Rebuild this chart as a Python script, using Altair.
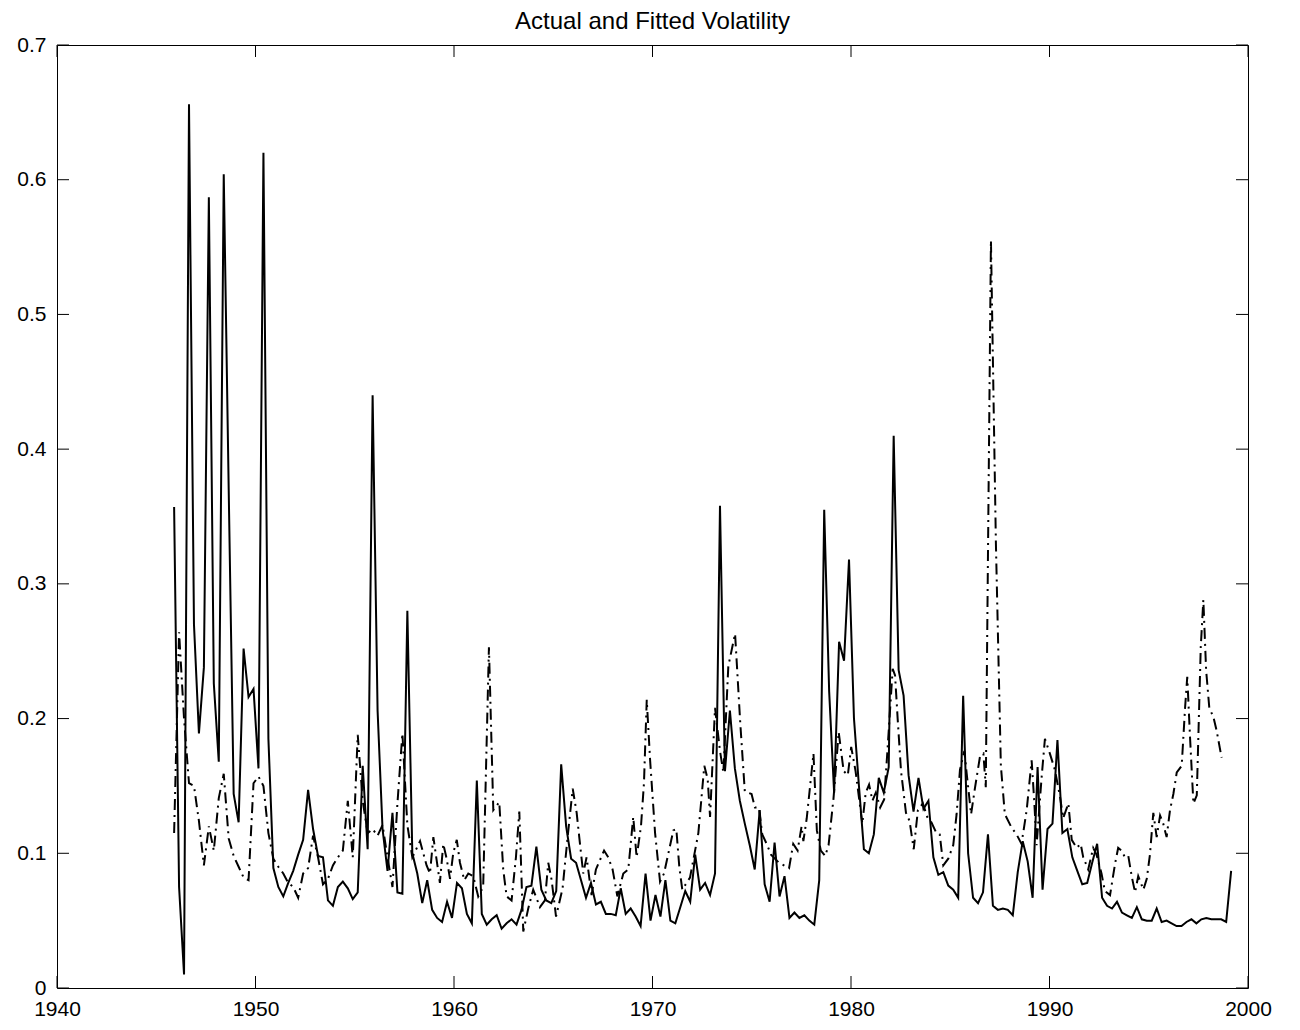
import altair as alt
import pandas as pd

# ---------------- data ----------------
# Actual volatility: quarterly observations starting 1945.9
actual_start = 1945.9
quarter = 0.25
actual_vol = [
    0.357, 0.075, 0.010, 0.656, 0.270, 0.189, 0.238, 0.587, 0.226, 0.168,
    0.604, 0.370, 0.144, 0.123, 0.252, 0.216, 0.222, 0.163, 0.620, 0.185,
    0.089, 0.075, 0.068, 0.078, 0.087, 0.099, 0.110, 0.147, 0.118, 0.098,
    0.097, 0.065, 0.061, 0.075, 0.079, 0.074, 0.066, 0.071, 0.165, 0.103,
    0.440, 0.206, 0.118, 0.087, 0.130, 0.071, 0.070, 0.280, 0.100, 0.085,
    0.063, 0.080, 0.058, 0.052, 0.049, 0.064, 0.052, 0.078, 0.074, 0.055,
    0.048, 0.154, 0.055, 0.047, 0.051, 0.054, 0.044, 0.048, 0.051, 0.047,
    0.058, 0.075, 0.076, 0.105, 0.073, 0.065, 0.063, 0.072, 0.166, 0.120,
    0.096, 0.093, 0.080, 0.067, 0.078, 0.062, 0.064, 0.055, 0.055, 0.054,
    0.074, 0.055, 0.059, 0.053, 0.046, 0.085, 0.050, 0.069, 0.053, 0.080,
    0.050, 0.048, 0.060, 0.072, 0.064, 0.099, 0.073, 0.078, 0.069, 0.085,
    0.358, 0.161, 0.206, 0.163, 0.139, 0.122, 0.106, 0.088, 0.132, 0.077,
    0.064, 0.108, 0.068, 0.083, 0.052, 0.056, 0.052, 0.054, 0.050, 0.047,
    0.080, 0.355, 0.220, 0.145, 0.257, 0.243, 0.318, 0.200, 0.150, 0.103,
    0.100, 0.114, 0.156, 0.145, 0.164, 0.410, 0.236, 0.217, 0.158, 0.131,
    0.156, 0.133, 0.139, 0.097, 0.084, 0.086, 0.076, 0.073, 0.067, 0.217,
    0.100, 0.067, 0.063, 0.071, 0.114, 0.061, 0.058, 0.059, 0.058, 0.054,
    0.086, 0.109, 0.094, 0.067, 0.164, 0.073, 0.118, 0.122, 0.184, 0.115,
    0.118, 0.097, 0.087, 0.077, 0.078, 0.093, 0.107, 0.067, 0.061, 0.059,
    0.064, 0.056, 0.054, 0.052, 0.060, 0.051, 0.050, 0.050, 0.059, 0.049,
    0.050, 0.048, 0.046, 0.046, 0.049, 0.051, 0.048, 0.051, 0.052, 0.051,
    0.051, 0.051, 0.049, 0.087,
]

# Fitted volatility (dash-dot line): year / value pairs
fitted_years = [
    1945.9, 1946.15, 1946.4, 1946.65, 1946.9, 1947.15, 1947.4, 1947.65, 1947.9, 1948.15,
    1948.4, 1948.65, 1948.9, 1949.15, 1949.4, 1949.65, 1949.9, 1950.15, 1950.4, 1950.65,
    1950.9, 1951.15, 1951.4, 1951.65, 1951.9, 1952.15, 1952.4, 1952.65, 1952.9, 1953.15,
    1953.4, 1953.65, 1953.9, 1954.15, 1954.4, 1954.65, 1954.9, 1955.15, 1955.4, 1955.65,
    1955.9, 1956.15, 1956.4, 1956.65, 1956.9, 1957.15, 1957.4, 1957.65, 1957.9, 1958.29,
    1958.62, 1958.79, 1958.96, 1959.29, 1959.46, 1959.63, 1959.8, 1959.96, 1960.14, 1960.3,
    1960.52, 1960.72, 1960.97, 1961.22, 1961.47, 1961.76, 1961.98, 1962.28, 1962.48, 1962.65,
    1962.9, 1963.12, 1963.29, 1963.49, 1963.74, 1963.99, 1964.33, 1964.58, 1964.75, 1964.92,
    1965.14, 1965.47, 1965.71, 1965.98, 1966.18, 1966.31, 1966.51, 1966.68, 1966.93, 1967.15,
    1967.56, 1967.77, 1967.99, 1968.23, 1968.53, 1968.78, 1969.03, 1969.2, 1969.42, 1969.57,
    1969.71, 1969.88, 1970.13, 1970.38, 1970.58, 1970.8, 1971.05, 1971.2, 1971.35, 1971.5,
    1971.89, 1972.31, 1972.61, 1972.78, 1972.9, 1973.15, 1973.4, 1973.57, 1973.82, 1974.16,
    1974.42, 1974.65, 1974.99, 1975.16, 1975.36, 1975.53, 1975.75, 1975.97, 1976.37, 1976.88,
    1977.09, 1977.31, 1977.51, 1977.6, 1977.77, 1978.11, 1978.28, 1978.48, 1978.7, 1978.87,
    1979.12, 1979.38, 1979.63, 1979.84, 1980.01, 1980.23, 1980.57, 1980.74, 1980.91, 1981.08,
    1981.25, 1981.47, 1981.67, 1981.84, 1982.1, 1982.22, 1982.35, 1982.52, 1982.77, 1982.95,
    1983.16, 1983.37, 1983.62, 1983.84, 1984.05, 1984.3, 1984.47, 1984.65, 1984.9, 1985.15,
    1985.32, 1985.49, 1985.71, 1985.83, 1986.05, 1986.25, 1986.5, 1986.67, 1986.79, 1987.05,
    1987.3, 1987.55, 1987.75, 1988.09, 1988.34, 1988.59, 1988.85, 1989.1, 1989.23, 1989.35,
    1989.6, 1989.77, 1990.02, 1990.27, 1990.53, 1990.69, 1990.95, 1991.12, 1991.37, 1991.57,
    1991.7, 1991.95, 1992.2, 1992.37, 1992.62, 1992.79, 1993.05, 1993.3, 1993.46, 1993.63,
    1993.8, 1993.97, 1994.14, 1994.31, 1994.47, 1994.73, 1994.9, 1995.06, 1995.23, 1995.4,
    1995.57, 1995.73, 1995.9, 1996.07, 1996.24, 1996.41, 1996.66, 1996.83, 1996.94, 1997.08,
    1997.25, 1997.42, 1997.62, 1997.75, 1997.89, 1998.05, 1998.26, 1998.42, 1998.67,
]
fitted_vol = [
    0.115, 0.264, 0.200, 0.152, 0.150, 0.124, 0.091, 0.120, 0.102, 0.141,
    0.159, 0.111, 0.098, 0.090, 0.082, 0.080, 0.152, 0.157, 0.150, 0.115,
    0.096, 0.090, 0.085, 0.078, 0.075, 0.067, 0.085, 0.089, 0.113, 0.097,
    0.077, 0.081, 0.091, 0.097, 0.102, 0.139, 0.097, 0.188, 0.139, 0.115,
    0.118, 0.113, 0.121, 0.097, 0.075, 0.137, 0.189, 0.121, 0.097, 0.109,
    0.091, 0.085, 0.112, 0.078, 0.107, 0.096, 0.081, 0.100, 0.110, 0.093,
    0.080, 0.085, 0.083, 0.068, 0.075, 0.253, 0.132, 0.138, 0.088, 0.068,
    0.065, 0.097, 0.131, 0.042, 0.059, 0.073, 0.060, 0.065, 0.093, 0.080,
    0.053, 0.074, 0.110, 0.148, 0.130, 0.112, 0.085, 0.097, 0.069, 0.088,
    0.102, 0.097, 0.088, 0.068, 0.085, 0.088, 0.127, 0.097, 0.120, 0.152,
    0.214, 0.169, 0.115, 0.079, 0.085, 0.100, 0.117, 0.118, 0.090, 0.073,
    0.082, 0.115, 0.165, 0.155, 0.127, 0.208, 0.176, 0.160, 0.239, 0.263,
    0.197, 0.146, 0.144, 0.134, 0.134, 0.114, 0.107, 0.099, 0.093, 0.089,
    0.107, 0.102, 0.120, 0.109, 0.126, 0.174, 0.117, 0.102, 0.098, 0.106,
    0.141, 0.190, 0.161, 0.158, 0.179, 0.161, 0.122, 0.145, 0.151, 0.139,
    0.145, 0.134, 0.140, 0.177, 0.237, 0.232, 0.200, 0.161, 0.130, 0.124,
    0.103, 0.132, 0.137, 0.127, 0.123, 0.115, 0.114, 0.091, 0.096, 0.106,
    0.129, 0.162, 0.176, 0.159, 0.129, 0.149, 0.172, 0.174, 0.149, 0.555,
    0.330, 0.165, 0.129, 0.119, 0.114, 0.107, 0.132, 0.169, 0.139, 0.106,
    0.156, 0.185, 0.174, 0.162, 0.142, 0.126, 0.137, 0.110, 0.104, 0.107,
    0.097, 0.088, 0.104, 0.099, 0.085, 0.072, 0.069, 0.092, 0.104, 0.102,
    0.097, 0.098, 0.083, 0.071, 0.083, 0.073, 0.081, 0.099, 0.130, 0.112,
    0.128, 0.122, 0.112, 0.132, 0.144, 0.160, 0.165, 0.208, 0.231, 0.186,
    0.137, 0.143, 0.253, 0.288, 0.236, 0.208, 0.201, 0.191, 0.171,
]

x_ticks = [1940, 1950, 1960, 1970, 1980, 1990, 2000]
y_ticks = [0.0, 0.1, 0.2, 0.3, 0.4, 0.5, 0.6, 0.7]
chart_title = "Actual and Fitted Volatility"

# ---------------- chart ----------------
W, H = 1191, 943
TICK = 12
FONT = "Liberation Sans"
LABEL_SIZE = 21

actual_years = [round(actual_start + quarter * i, 3) for i in range(len(actual_vol))]
df_actual = pd.DataFrame({"year": actual_years, "vol": actual_vol})
df_fitted = pd.DataFrame({"year": fitted_years, "vol": fitted_vol})
df_xt = pd.DataFrame({"year": x_ticks})
df_yt = pd.DataFrame({"vol": y_ticks})

xscale = alt.Scale(domain=[1940, 2000], nice=False, zero=False)
yscale = alt.Scale(domain=[0, 0.7], nice=False)

x_axis = alt.Axis(values=x_ticks, format="d", title=None, grid=False, domain=False,
                  ticks=False, labelFontSize=LABEL_SIZE, labelFont=FONT, labelColor="black",
                  labelPadding=10, labelFlush=False)
y_axis = alt.Axis(values=y_ticks, title=None, grid=False, domain=False, ticks=False,
                  labelFontSize=LABEL_SIZE, labelFont=FONT, labelColor="black",
                  labelPadding=11,
                  labelExpr="datum.value == 0 ? '0' : format(datum.value, '.1f')",
                  labelFlush=False)

X = alt.X("year:Q", scale=xscale, axis=x_axis, title=None)
Y = alt.Y("vol:Q", scale=yscale, axis=y_axis, title=None)

actual = alt.Chart(df_actual).mark_line(color="black", strokeWidth=2).encode(x=X, y=Y)
fitted = alt.Chart(df_fitted).mark_line(color="black", strokeWidth=2,
                                        strokeDash=[11, 5, 2, 5]).encode(x=X, y=Y)

tick_bottom = alt.Chart(df_xt).mark_rule(color="black", strokeWidth=1).encode(
    x=X, y=alt.value(H), y2=alt.value(H - TICK))
tick_top = alt.Chart(df_xt).mark_rule(color="black", strokeWidth=1).encode(
    x=X, y=alt.value(0), y2=alt.value(TICK))
tick_left = alt.Chart(df_yt).mark_rule(color="black", strokeWidth=1).encode(
    y=Y, x=alt.value(0), x2=alt.value(TICK))
tick_right = alt.Chart(df_yt).mark_rule(color="black", strokeWidth=1).encode(
    y=Y, x=alt.value(W), x2=alt.value(W - TICK))

chart = alt.layer(actual, fitted, tick_bottom, tick_top, tick_left, tick_right).properties(
    width=W, height=H,
    title=alt.TitleParams(chart_title, font=FONT, fontSize=24, fontWeight="normal",
                          color="black", offset=0, anchor="middle"),
    autosize=alt.AutoSizeParams(type="none"),
    padding={"left": 49, "top": 37, "right": 40, "bottom": 40},
    background="white",
).configure_view(stroke="black", strokeWidth=1)

chart.save("out.html", embed_options={"renderer": "svg", "actions": False})
